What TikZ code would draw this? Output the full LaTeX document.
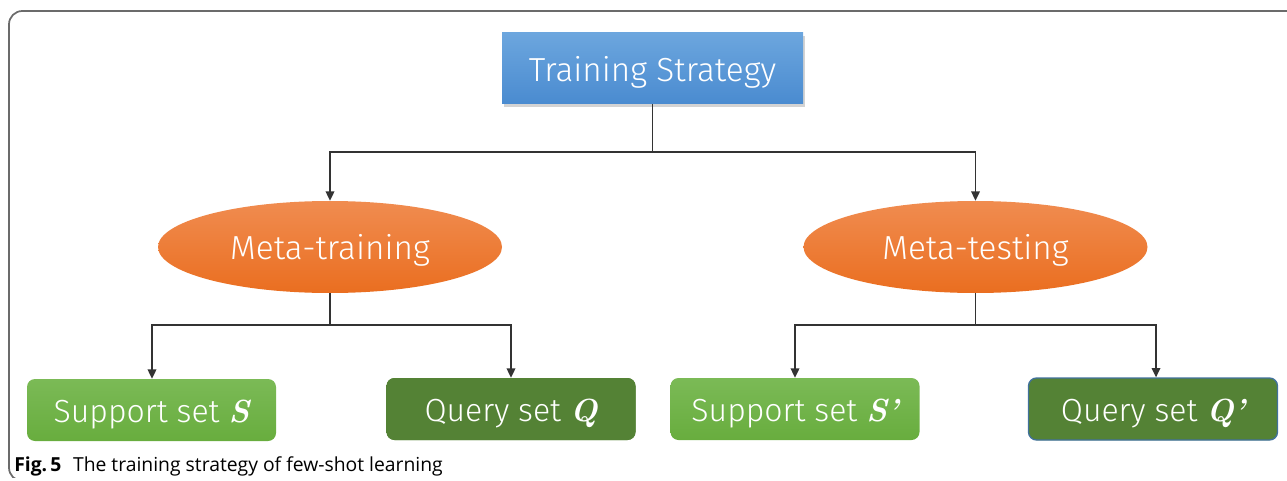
\documentclass[tikz,border=0pt]{standalone}
\usepackage{fontspec}
\usepackage{tikz}
\usetikzlibrary{arrows.meta,shapes.geometric,shadows}
\newfontfamily\boxfont{Fira Sans Light}
\newfontfamily\capfont{Open Sans}

\definecolor{frameGray}{HTML}{6B6B6B}
\definecolor{lineGray}{HTML}{333333}
\definecolor{blueTop}{HTML}{6CA6DE}
\definecolor{blueBot}{HTML}{4A8BD0}
\definecolor{orangeTop}{HTML}{F08C50}
\definecolor{orangeBot}{HTML}{EA6E20}
\definecolor{greenTop}{HTML}{7BBA56}
\definecolor{greenBot}{HTML}{68AD3E}
\definecolor{darkGreen}{HTML}{548235}
\definecolor{edgeBlue}{HTML}{41719C}

\tikzset{
	stratbox/.style={rectangle, top color=blueTop, bottom color=blueBot, draw=none,
		minimum width=225.75pt, minimum height=53.25pt, inner sep=0pt,
		text height=23pt, text depth=3pt,
		drop shadow={shadow xshift=1.5pt, shadow yshift=-2pt, opacity=0.35},
		text=white, font=\boxfont\fontsize{25}{30}\selectfont},
	phase/.style={ellipse, top color=orangeTop, bottom color=orangeBot, draw=none,
		minimum width=258pt, minimum height=69pt, inner sep=0pt,
		text height=21pt, text depth=3pt,
		text=white, font=\boxfont\fontsize{25}{30}\selectfont},
	supportbox/.style={rectangle, rounded corners=6pt, top color=greenTop, bottom color=greenBot,
		draw=none, minimum width=186.75pt, minimum height=46.5pt, inner sep=0pt,
		text height=21pt, text depth=3pt,
		text=white, font=\boxfont\fontsize{24}{28}\selectfont},
	querybox/.style={supportbox, fill=darkGreen, top color=darkGreen, bottom color=darkGreen},
	link/.style={draw=lineGray, line width=1pt, -{Triangle[width=6.5pt,length=7pt]}},
	seg/.style={draw=lineGray, line width=1pt}
}
\newcommand{\setsym}[1]{{\normalfont\bfseries\itshape #1}}

\begin{document}
\begin{tikzpicture}[x=0.75pt,y=-0.75pt]
	%%%%% START %%%%%
	\useasboundingbox (0,0) rectangle (1287,481);

	% frame
	\draw[frameGray, line width=1.3pt, rounded corners=10pt] (1287,11) -- (9,11) -- (9,481) -- (19,481);
	\fill[white] (0,478) rectangle (1287,481.5);

	% top level
	\node[stratbox] (ts) at (652.5,68.5) {Training Strategy};

	% meta phases
	\node[phase] (mtr) at (330,247) {Meta-training};
	\node[phase] (mte) at (975.5,247) {Meta-testing};

	% sets
	\node[supportbox] (sup) at (151.5,410) {Support set \setsym{S}};
	\node[querybox] (qry) at (511,409) {Query set \setsym{Q}};
	\node[supportbox] (sup2) at (795,409) {Support set \setsym{S’}};
	\node[querybox, draw=edgeBlue, line width=1pt] (qry2) at (1153,409) {Query set \setsym{Q’}};

	% junctions
	\coordinate (j0) at (652.5,152);
	\coordinate (j1) at (330,325);
	\coordinate (j2) at (975.5,325);

	\draw[seg] (ts) -- (j0);
	\draw[link] (j0) -| (mtr);
	\draw[link] (j0) -| (mte);

	\draw[seg] (mtr) -- (j1);
	\draw[link] (j1) -| (sup.north -| 152,0);
	\draw[link] (j1) -| (qry);

	\draw[seg] (mte) -- (j2);
	\draw[link] (j2) -| (sup2);
	\draw[link] (j2) -| (qry2.north -| 1156,0);

	% caption
	\node[anchor=base west, inner sep=0pt, font=\capfont\fontsize{14.5}{17}\selectfont] (cap) at (14,471)
		{\textbf{Fig.\,5}\hspace{0.6em}The training strategy of few-shot learning};
	%%%%% END %%%%%
\end{tikzpicture}
\end{document}
